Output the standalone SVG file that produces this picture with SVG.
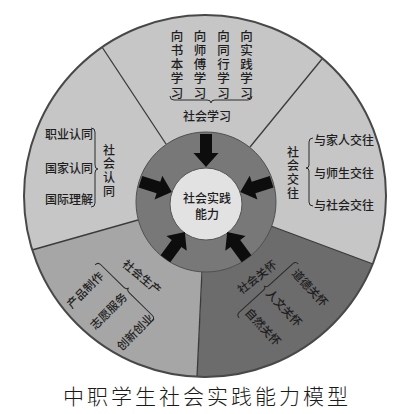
<svg xmlns="http://www.w3.org/2000/svg" width="404" height="414" viewBox="0 0 404 414">
<defs>
<style>
.t{font-family:"Noto Sans CJK SC","Noto Sans",sans-serif;font-size:12px;font-weight:500;fill:#1e1e1e;text-anchor:middle}
.r{font-size:11.5px}
.c{font-size:12px}
.vt{font-family:"Noto Sans CJK SC","Noto Sans",sans-serif;font-weight:500;fill:#1e1e1e;writing-mode:vertical-rl;text-anchor:start}
.col{font-size:12.5px;letter-spacing:1.8px}
.lab{font-size:12px;letter-spacing:1.7px}
.cap{font-family:"Noto Sans CJK SC","Noto Sans",sans-serif;font-size:21px;font-weight:300;fill:#1a1a1a;text-anchor:middle;letter-spacing:3px}
.div{stroke:#3a3a3a;stroke-width:1.3;fill:none}
.br{stroke:#2a2a2a;stroke-width:1;fill:none}
.arr{fill:#0d0d0d}
</style>
<path id="arrow" d="M-6,-69 L6,-69 L6,-50 L12.5,-50 L0,-36 L-12.5,-50 L-6,-50 Z"/>
<path id="brace" d="M-40,4 Q-40,0 -36,0 L-4,0 Q0,0 0,-3 Q0,0 4,0 L36,0 Q40,0 40,4"/>
</defs>
<rect width="404" height="414" fill="#ffffff"/>

<g id="sector-learning">
<circle cx="205" cy="196" r="181" fill="#c6c6c6"/>
</g>
<g id="sector-care">
<path d="M206,202 L373,264 A181,181 0 0 1 197,377 Z" fill="#6c6c6c"/>
</g>
<g id="sector-production">
<path d="M206,202 L197,377 A181,181 0 0 1 32,250 Z" fill="#a6a6a6"/>
</g>
<g id="dividers">
<line class="div" x1="102" y1="47" x2="166" y2="144"/>
<line class="div" x1="322" y1="59" x2="250" y2="147"/>
<line class="div" x1="373" y1="264" x2="271" y2="226"/>
<line class="div" x1="197" y1="377" x2="202" y2="271"/>
<line class="div" x1="32" y1="250" x2="138" y2="220"/>
</g>
<circle cx="205" cy="196" r="181" fill="none" stroke="#484848" stroke-width="2"/>

<g id="ring">
<circle cx="206" cy="202" r="70" fill="#787878" stroke="#505050" stroke-width="1"/>
</g>
<g id="core">
<circle cx="206" cy="204" r="36" fill="#e2e2e2" stroke="#555555" stroke-width="1"/>
<text class="t c" x="207" y="203">社会实践</text>
<text class="t c" x="207" y="219">能力</text>
</g>

<g id="connectors">
<use href="#arrow" class="arr" transform="translate(206,203) rotate(0)"/>
<use href="#arrow" class="arr" transform="translate(206,203) rotate(72)"/>
<use href="#arrow" class="arr" transform="translate(206,203) rotate(144)"/>
<use href="#arrow" class="arr" transform="translate(206,203) rotate(216)"/>
<use href="#arrow" class="arr" transform="translate(206,203) rotate(288)"/>
</g>

<g id="node-learning">
<text class="vt col" x="177" y="29.5">向书本学习</text>
<text class="vt col" x="200" y="29.5">向师傅学习</text>
<text class="vt col" x="223.5" y="29.5">向同行学习</text>
<text class="vt col" x="246.5" y="29.5">向实践学习</text>
<path class="br" d="M170,96 Q170,100 174,100 L207,100 Q211,100 211,103 Q211,100 215,100 L248,100 Q252,100 252,96"/>
<text class="t" x="207" y="121.4">社会学习</text>
</g>

<g id="node-identity">
<text class="t" x="69" y="139.4">职业认同</text>
<text class="t" x="69" y="172.6">国家认同</text>
<text class="t" x="69" y="203.8">国际理解</text>
<path class="br" d="M91,128 Q95,128 95,132 L95,165 Q95,169 98,169 Q95,169 95,173 L95,203 Q95,207 91,207"/>
<text class="vt lab" x="109" y="144">社会认同</text>
</g>

<g id="node-communication">
<text class="vt lab" x="293" y="146">社会交往</text>
<path class="br" d="M313,138 Q309,138 309,142 L309,165 Q309,168 306,168 Q309,168 309,171 L309,202 Q309,206 313,206"/>
<text class="t" x="344" y="145.4">与家人交往</text>
<text class="t" x="344" y="177.6">与师生交往</text>
<text class="t" x="344" y="210.4">与社会交往</text>
</g>

<g id="node-production">
<text class="t r" transform="translate(142,277) rotate(40)" x="0" y="4.3">社会生产</text>
<use href="#brace" class="br" transform="translate(126.5,290) rotate(44.5)"/>
<text class="t r" transform="translate(85,290) rotate(-45)" x="0" y="4.3">产品制作</text>
<text class="t r" transform="translate(108.5,311) rotate(-45)" x="0" y="4.3">志愿服务</text>
<text class="t r" transform="translate(135,332) rotate(-45)" x="0" y="4.3">创新创业</text>
</g>

<g id="node-care">
<text class="t r" transform="translate(257,277) rotate(-38)" x="0" y="4.3">社会关怀</text>
<use href="#brace" class="br" transform="translate(266,288) rotate(-42.3)"/>
<text class="t r" transform="translate(310,288) rotate(47)" x="0" y="4.3">道德关怀</text>
<text class="t r" transform="translate(284,308) rotate(47)" x="0" y="4.3">人文关怀</text>
<text class="t r" transform="translate(263,327) rotate(47)" x="0" y="4.3">自然关怀</text>
</g>

<text class="cap" x="207" y="404">中职学生社会实践能力模型</text>
</svg>
